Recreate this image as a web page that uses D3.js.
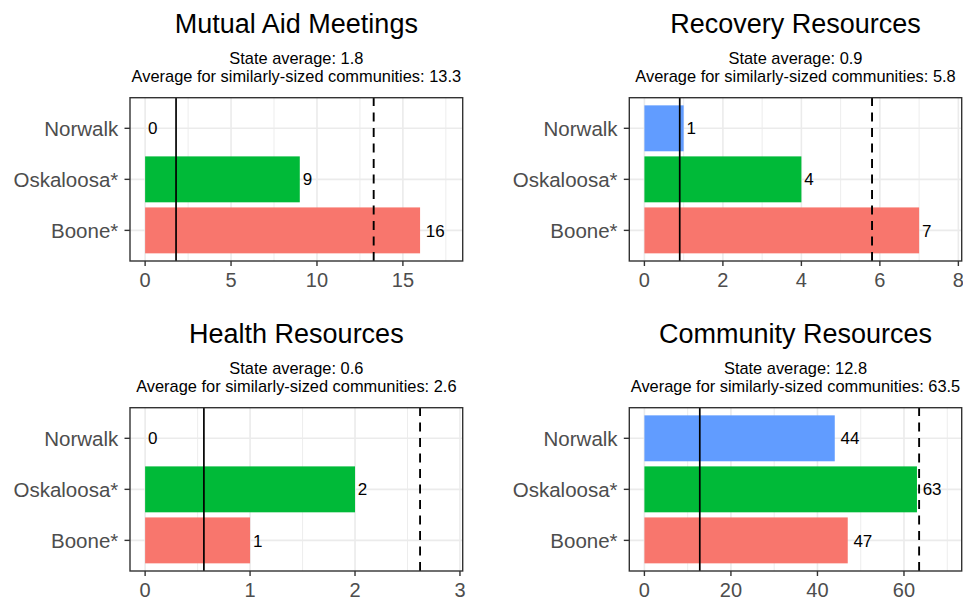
<!DOCTYPE html>
<html>
<head>
<meta charset="utf-8">
<script src="https://cdn.jsdelivr.net/npm/d3@7"></script>
<style>
  html, body { margin: 0; padding: 0; background: #fff; }
  svg { display: block; font-family: "Liberation Sans", Arial, sans-serif; }
</style>
</head>
<body>
<svg id="chart" width="963" height="599"></svg>
<script>
// ---- data ----
const categories = ["Norwalk", "Oskaloosa*", "Boone*"];
const barColors = ["#619CFF", "#00BA38", "#F8766D"];
const panelTitles = ["Mutual Aid Meetings", "Recovery Resources", "Health Resources", "Community Resources"];
const mutualValues = [0, 9, 16];
const recoveryValues = [1, 4, 7];
const healthValues = [0, 2, 1];
const communityValues = [44, 63, 47];
const stateAvg = [1.8, 0.9, 0.56, 12.8];
const similarAvg = [13.3, 5.8, 2.62, 63.5];
const mutualTicks = [0, 5, 10, 15];
const recoveryTicks = [0, 2, 4, 6, 8];
const healthTicks = [0, 1, 2, 3];
const communityTicks = [0, 20, 40, 60];

const seriesValues = [mutualValues, recoveryValues, healthValues, communityValues];
const seriesTicks = [mutualTicks, recoveryTicks, healthTicks, communityTicks];

// ---- layout ----
const svg = d3.select("#chart");
svg.append("rect").attr("width", 963).attr("height", 599).attr("fill", "#fff");

const boxes = [
  {x0: 130, x1: 462.7, y0: 97.7, y1: 261},
  {x0: 629.3, x1: 961.7, y0: 97.7, y1: 261},
  {x0: 130, x1: 462.7, y0: 407.7, y1: 571},
  {x0: 629.3, x1: 961.7, y0: 407.7, y1: 571}
];
const fmt = d3.format(".1f");

boxes.forEach((b, i) => {
  const vals = seriesValues[i];
  const ticks = seriesTicks[i];
  const L = 1.1 * Math.max(d3.max(vals), similarAvg[i]);
  const x = d3.scaleLinear().domain([-0.05 * L, 1.05 * L]).range([b.x0, b.x1]);
  const y = d3.scaleBand().domain(categories).range([b.y0, b.y1]).paddingInner(0.1).paddingOuter(0.15);
  const g = svg.append("g");
  const cx = (b.x0 + b.x1) / 2;

  // titles
  g.append("text").attr("x", cx).attr("y", b.y0 - 64.4).attr("text-anchor", "middle")
    .attr("font-size", 27).attr("fill", "#000").text(panelTitles[i]);
  g.append("text").attr("x", cx).attr("y", b.y0 - 33.7).attr("text-anchor", "middle")
    .attr("font-size", 16.4).attr("fill", "#000").text("State average: " + fmt(stateAvg[i]));
  g.append("text").attr("x", cx).attr("y", b.y0 - 15.8).attr("text-anchor", "middle")
    .attr("font-size", 16.4).attr("fill", "#000").text("Average for similarly-sized communities: " + fmt(similarAvg[i]));

  // clip
  const clipId = "clip" + i;
  svg.append("clipPath").attr("id", clipId).append("rect")
    .attr("x", b.x0).attr("y", b.y0).attr("width", b.x1 - b.x0).attr("height", b.y1 - b.y0);
  const pg = g.append("g").attr("clip-path", `url(#${clipId})`);

  // minor grid
  const step = ticks[1] - ticks[0];
  const dom = x.domain();
  const minor = d3.range(ticks[0] - step / 2, dom[1] + step, step).filter(v => v >= dom[0] && v <= dom[1]);
  pg.selectAll(".minor").data(minor).join("line")
    .attr("x1", d => x(d)).attr("x2", d => x(d)).attr("y1", b.y0).attr("y2", b.y1)
    .attr("stroke", "#EBEBEB").attr("stroke-width", 0.9);
  // major grid
  pg.selectAll(".majorx").data(ticks).join("line")
    .attr("x1", d => x(d)).attr("x2", d => x(d)).attr("y1", b.y0).attr("y2", b.y1)
    .attr("stroke", "#EBEBEB").attr("stroke-width", 1.6);
  pg.selectAll(".majory").data(categories).join("line")
    .attr("x1", b.x0).attr("x2", b.x1)
    .attr("y1", d => y(d) + y.bandwidth() / 2).attr("y2", d => y(d) + y.bandwidth() / 2)
    .attr("stroke", "#EBEBEB").attr("stroke-width", 1.6);

  // bars
  pg.selectAll(".bar").data(categories).join("rect")
    .attr("x", x(0)).attr("y", d => y(d))
    .attr("width", (d, k) => x(vals[k]) - x(0))
    .attr("height", y.bandwidth())
    .attr("fill", (d, k) => barColors[k]);

  // reference lines
  pg.append("line").attr("x1", x(stateAvg[i])).attr("x2", x(stateAvg[i]))
    .attr("y1", b.y1).attr("y2", b.y0).attr("stroke", "#000").attr("stroke-width", 1.7);
  pg.append("line").attr("x1", x(similarAvg[i])).attr("x2", x(similarAvg[i]))
    .attr("y1", b.y1).attr("y2", b.y0).attr("stroke", "#000").attr("stroke-width", 1.9)
    .attr("stroke-dasharray", "9,6.5");

  // value labels
  pg.selectAll(".val").data(categories).join("text")
    .attr("y", d => y(d) + y.bandwidth() / 2).attr("dy", "0.36em")
    .attr("font-size", 17).attr("fill", "#000")
    .text((d, k) => vals[k])
    .each(function(d, k) {
      const w = this.getComputedTextLength();
      d3.select(this).attr("x", x(vals[k]) + 0.3 * w);
    });

  // panel border
  g.append("rect").attr("x", b.x0).attr("y", b.y0).attr("width", b.x1 - b.x0).attr("height", b.y1 - b.y0)
    .attr("fill", "none").attr("stroke", "#333333").attr("stroke-width", 1.4);

  // x axis
  g.selectAll(".xt").data(ticks).join("line")
    .attr("x1", d => x(d)).attr("x2", d => x(d)).attr("y1", b.y1).attr("y2", b.y1 + 5)
    .attr("stroke", "#333333").attr("stroke-width", 1.4);
  g.selectAll(".xl").data(ticks).join("text")
    .attr("x", d => x(d)).attr("y", b.y1 + 25.5).attr("text-anchor", "middle")
    .attr("font-size", 20).attr("fill", "#4D4D4D").text(d => d);

  // y axis
  g.selectAll(".yt").data(categories).join("line")
    .attr("x1", b.x0 - 5.5).attr("x2", b.x0)
    .attr("y1", d => y(d) + y.bandwidth() / 2).attr("y2", d => y(d) + y.bandwidth() / 2)
    .attr("stroke", "#333333").attr("stroke-width", 1.4);
  g.selectAll(".yl").data(categories).join("text")
    .attr("x", b.x0 - 11.7).attr("y", d => y(d) + y.bandwidth() / 2).attr("dy", "0.36em")
    .attr("text-anchor", "end").attr("font-size", 20.5).attr("fill", "#4D4D4D").text(d => d);
});
</script>
</body>
</html>
